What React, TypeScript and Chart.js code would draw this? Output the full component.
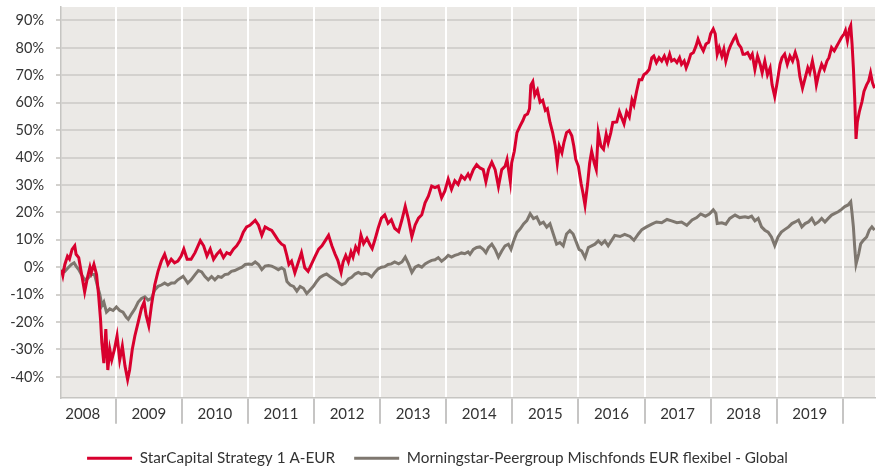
import React, { useEffect, useRef } from 'react';
import { Chart, registerables } from 'chart.js';

Chart.register(...registerables);

const yearLabels = ['2008', '2009', '2010', '2011', '2012', '2013', '2014', '2015', '2016', '2017', '2018', '2019'];
const yTickValues = [-40, -30, -20, -10, 0, 10, 20, 30, 40, 50, 60, 70, 80, 90];
const xMin = 2008.172;
const xMax = 2020.487;
const yMin = -47.6;
const yMax = 94.9;

const seriesNames = ['StarCapital Strategy 1 A-EUR', 'Morningstar-Peergroup Mischfonds EUR flexibel - Global'];

const redDates = [
  2008.18, 2008.20, 2008.23, 2008.27, 2008.30, 2008.34, 2008.38, 2008.40, 2008.44, 2008.48, 2008.53, 2008.57, 2008.61, 2008.63, 2008.67, 2008.71, 2008.74, 2008.77, 2008.79, 2008.82, 2008.85, 2008.88, 2008.91, 2008.94, 2008.98,
  2009.02, 2009.06, 2009.10, 2009.14, 2009.18, 2009.21, 2009.25, 2009.29, 2009.34, 2009.39, 2009.43, 2009.46, 2009.50, 2009.54, 2009.59, 2009.64, 2009.69, 2009.74, 2009.79, 2009.84, 2009.89, 2009.94, 2009.99,
  2010.03, 2010.08, 2010.14, 2010.20, 2010.28, 2010.33, 2010.38, 2010.43, 2010.48, 2010.53, 2010.58, 2010.63, 2010.68, 2010.73, 2010.78, 2010.83, 2010.88, 2010.93, 2010.98,
  2011.03, 2011.11, 2011.16, 2011.21, 2011.26, 2011.31, 2011.36, 2011.41, 2011.46, 2011.51, 2011.55, 2011.59, 2011.62, 2011.66, 2011.71, 2011.76, 2011.81, 2011.86, 2011.91, 2011.96,
  2012.02, 2012.07, 2012.12, 2012.17, 2012.22, 2012.27, 2012.32, 2012.36, 2012.41, 2012.44, 2012.48, 2012.52, 2012.56, 2012.59, 2012.63, 2012.67, 2012.71, 2012.75, 2012.80, 2012.85, 2012.88, 2012.92, 2012.97,
  2013.02, 2013.07, 2013.12, 2013.17, 2013.22, 2013.28, 2013.33, 2013.38, 2013.43, 2013.48, 2013.53, 2013.58, 2013.63, 2013.68, 2013.73, 2013.78, 2013.83, 2013.88, 2013.93, 2013.98,
  2014.03, 2014.08, 2014.13, 2014.18, 2014.23, 2014.28, 2014.33, 2014.36, 2014.41, 2014.46, 2014.51, 2014.56, 2014.60, 2014.64, 2014.69, 2014.74, 2014.79, 2014.84, 2014.89, 2014.92, 2014.97, 2014.99,
  2015.03, 2015.07, 2015.12, 2015.16, 2015.19, 2015.23, 2015.26, 2015.28, 2015.31, 2015.34, 2015.38, 2015.42, 2015.46, 2015.50, 2015.53, 2015.57, 2015.61, 2015.65, 2015.68, 2015.71, 2015.75, 2015.78, 2015.82, 2015.86, 2015.90, 2015.93, 2015.96,
  2016.00, 2016.04, 2016.07, 2016.10, 2016.14, 2016.17, 2016.20, 2016.24, 2016.27, 2016.30, 2016.34, 2016.38, 2016.42, 2016.45, 2016.49, 2016.52, 2016.58, 2016.62, 2016.65, 2016.69, 2016.73, 2016.77, 2016.81, 2016.84, 2016.88, 2016.92, 2016.96, 2016.99,
  2017.03, 2017.07, 2017.11, 2017.14, 2017.18, 2017.22, 2017.26, 2017.30, 2017.34, 2017.38, 2017.41, 2017.45, 2017.49, 2017.53, 2017.56, 2017.60, 2017.63, 2017.66, 2017.70, 2017.74, 2017.78, 2017.81, 2017.85, 2017.89, 2017.93, 2017.97,
  2018.00, 2018.04, 2018.07, 2018.10, 2018.13, 2018.17, 2018.20, 2018.23, 2018.27, 2018.30, 2018.35, 2018.38, 2018.42, 2018.46, 2018.49, 2018.52, 2018.56, 2018.60, 2018.63, 2018.67, 2018.71, 2018.75, 2018.78, 2018.82, 2018.86, 2018.90, 2018.93, 2018.97,
  2019.01, 2019.05, 2019.08, 2019.12, 2019.16, 2019.20, 2019.24, 2019.28, 2019.32, 2019.35, 2019.39, 2019.43, 2019.47, 2019.50, 2019.54, 2019.58, 2019.60, 2019.64, 2019.68, 2019.72, 2019.76, 2019.79, 2019.83, 2019.87, 2019.91, 2019.94, 2019.98,
  2020.02, 2020.04, 2020.07, 2020.10, 2020.12, 2020.14, 2020.16, 2020.18, 2020.20, 2020.22, 2020.25, 2020.29, 2020.32, 2020.36, 2020.39, 2020.42, 2020.45, 2020.48,
];
const redValues = [
  -1, -3, 1, 4, 3, 6.5, 7.8, 4.7, 3.5, -2, -9, -4, 0, -2, 1, -2.7, -10, -19, -27.6, -35, -22.6, -37.5, -30, -33.8, -30,
  -25, -33.8, -28.8, -36, -41, -37.5, -30, -25, -20, -15, -12.7, -17.6, -21.4, -14, -6.5, -1.5, 2.2, 4.7, 1, 2.9, 1.6, 2.2, 4.1,
  6.6, 2.9, 2.9, 5.3, 9.7, 7.8, 4.1, 6.6, 2.9, 4.7, 6, 3.5, 5.3, 4.7, 6.6, 7.8, 9.7, 12.8, 14.7,
  15.3, 17.1, 15.3, 11.6, 14.7, 14, 13.4, 11.6, 9.7, 8.4, 7.8, 4.1, 1, 2.2, -2.1, 1.6, 5.3, -0.2, -1.5, 1,
  4.1, 6.6, 7.8, 9.7, 11.6, 7.8, 4.7, 2.5, -1.9, 1.9, 4.3, 1.9, 5.6, 3.7, 7.4, 5.6, 11.7, 8.6, 10.5, 8, 6.8, 9.9, 14.2,
  17.9, 19.1, 16, 17.3, 14.2, 13, 17.3, 22.2, 17.3, 11.1, 15.4, 17.9, 19.1, 23.5, 25.9, 29.6, 29, 29.6, 25.3, 27.8,
  32.1, 28.4, 31.5, 30.2, 33.3, 32.1, 34, 32.5, 35.6, 37.4, 36.2, 35.6, 31.2, 35.6, 38.3, 35.6, 29.4, 35.6, 36.8, 39.3, 31.2, 38,
  42.3, 49.1, 51.6, 53.5, 55.3, 55.9, 57.8, 66.4, 67.7, 62.7, 64.6, 60.2, 60.9, 57.2, 57.8, 52.8, 49.1, 44.2, 38, 44.2, 41.7, 45.4, 49.1, 49.8, 47.9, 44.2, 39.3,
  36.8, 30.6, 26.9, 22.6, 30.6, 38, 42.3, 38, 35.6, 49.1, 44.2, 43, 48.5, 45.4, 49.1, 52.8, 53, 56.7, 54.8, 52.3, 56.7, 54.8, 61, 59.1, 64.1, 68.4, 68.4, 70.2,
  70.9, 72.1, 76.4, 77, 74.6, 76.4, 75.2, 77, 74.6, 77.7, 75.2, 75.8, 74.6, 76.4, 74, 75.2, 72.7, 74.6, 77.7, 78.3, 80.7, 83.2, 80.7, 78.9, 81.4, 82,
  85.1, 86.9, 85.1, 77.7, 80.1, 77, 79.5, 75.2, 78.9, 80.7, 83.2, 84.4, 81.4, 80.1, 77.7, 77.7, 78.3, 76.4, 77.7, 72.1, 77, 74, 70.9, 75.2, 70.2, 72.7, 66.5, 62.2,
  67.8, 74, 76.4, 77.7, 74, 77, 75.2, 78.3, 75.2, 69.6, 65.3, 69, 72.7, 70.9, 75.2, 70.2, 66.5, 70.9, 74, 72.1, 75.2, 76.4, 80.1, 78.9, 80.7, 82, 83.8,
  85.1, 86.3, 82.6, 86.9, 88.1, 81.4, 72.7, 61.6, 46.8, 53, 56.7, 60.4, 64.1, 66.5, 67.8, 70.9, 67.2, 65.3,
];

const grayDates = [
  2008.18, 2008.23, 2008.28, 2008.33, 2008.37, 2008.40, 2008.44, 2008.48, 2008.53, 2008.58, 2008.63, 2008.68, 2008.72, 2008.76, 2008.79, 2008.82, 2008.86, 2008.91, 2008.96,
  2009.01, 2009.06, 2009.11, 2009.16, 2009.19, 2009.24, 2009.29, 2009.34, 2009.39, 2009.44, 2009.49, 2009.54, 2009.59, 2009.64, 2009.69, 2009.74, 2009.79, 2009.84, 2009.89, 2009.94,
  2010.02, 2010.09, 2010.14, 2010.20, 2010.25, 2010.30, 2010.35, 2010.40, 2010.45, 2010.50, 2010.55, 2010.60, 2010.65, 2010.70, 2010.75, 2010.80, 2010.86, 2010.91, 2010.96,
  2011.01, 2011.06, 2011.11, 2011.16, 2011.21, 2011.26, 2011.31, 2011.36, 2011.41, 2011.46, 2011.51, 2011.55, 2011.59, 2011.64, 2011.69, 2011.74, 2011.79, 2011.84, 2011.89, 2011.94, 2011.99,
  2012.04, 2012.09, 2012.14, 2012.19, 2012.24, 2012.29, 2012.37, 2012.42, 2012.47, 2012.52, 2012.57, 2012.62, 2012.67, 2012.72, 2012.77, 2012.82, 2012.87, 2012.92, 2012.97,
  2013.02, 2013.07, 2013.12, 2013.17, 2013.22, 2013.28, 2013.33, 2013.38, 2013.43, 2013.48, 2013.53, 2013.58, 2013.63, 2013.68, 2013.73, 2013.78, 2013.83, 2013.88, 2013.93, 2013.98,
  2014.03, 2014.08, 2014.13, 2014.18, 2014.23, 2014.28, 2014.33, 2014.36, 2014.41, 2014.46, 2014.51, 2014.56, 2014.60, 2014.64, 2014.69, 2014.74, 2014.79, 2014.84, 2014.89, 2014.94, 2014.98,
  2015.02, 2015.07, 2015.12, 2015.17, 2015.22, 2015.27, 2015.32, 2015.37, 2015.42, 2015.47, 2015.52, 2015.57, 2015.62, 2015.67, 2015.72, 2015.77, 2015.82, 2015.87, 2015.92, 2015.96,
  2016.01, 2016.05, 2016.10, 2016.15, 2016.20, 2016.25, 2016.30, 2016.35, 2016.40, 2016.45, 2016.55, 2016.63, 2016.70, 2016.78, 2016.84, 2016.91, 2016.96,
  2017.03, 2017.11, 2017.18, 2017.26, 2017.34, 2017.41, 2017.49, 2017.56, 2017.64, 2017.72, 2017.79, 2017.85, 2017.92, 2017.98,
  2018.04, 2018.08, 2018.10, 2018.17, 2018.23, 2018.29, 2018.37, 2018.44, 2018.52, 2018.57, 2018.62, 2018.67, 2018.72, 2018.77, 2018.82, 2018.87, 2018.92, 2018.97,
  2019.02, 2019.07, 2019.12, 2019.18, 2019.23, 2019.28, 2019.33, 2019.38, 2019.43, 2019.48, 2019.53, 2019.58, 2019.63, 2019.68, 2019.73, 2019.78, 2019.83, 2019.88, 2019.93, 2019.98,
  2020.03, 2020.08, 2020.12, 2020.14, 2020.16, 2020.18, 2020.20, 2020.24, 2020.27, 2020.31, 2020.36, 2020.40, 2020.44, 2020.48,
];
const grayValues = [
  -0.9, -1.5, -0.2, 1, 1.6, 0.4, -0.9, -2.7, -4.6, -4, -2.7, -2.7, -6.5, -10, -14, -12.7, -16.4, -15.2, -15.8,
  -14.5, -15.8, -16.4, -18.3, -19, -17, -15.2, -12.7, -11.4, -10.8, -12, -11.4, -8.3, -7, -6.5, -5.8, -6.5, -5.8, -5.8, -4.6,
  -3.3, -5.8, -4.6, -2.7, -1.2, -1.7, -3.4, -4.6, -3.4, -4.6, -3.4, -3.7, -2.7, -2.5, -1.5, -1.2, -0.5, 0, 1,
  1.2, 1, 1.9, 1, -0.9, 0.4, 0.6, 0.4, -0.2, -0.9, -0.2, -0.9, -5.2, -6.5, -7, -8.7, -7, -7.7, -9.6, -8.3, -7,
  -5.2, -3.7, -3, -2.5, -3.4, -4.2, -5.6, -6.4, -5.9, -4.3, -3.7, -2.5, -1.9, -2.5, -2.2, -2.5, -3.5, -1.9, -0.6,
  0, 0.2, 1, 1.2, 1.9, 1.2, 1.9, 3.7, 1.2, -1.9, 0, 0.6, 0, 1.2, 1.9, 2.5, 2.7, 3.5, 2.2, 3.1,
  4.3, 3.7, 4.3, 4.7, 5.2, 4.9, 5.6, 4.7, 6.5, 7.2, 7.4, 6.5, 5.3, 7.2, 8.4, 6.5, 3.7, 5.9, 7.8, 8.4, 6.5,
  9.6, 12.7, 14, 15.8, 17, 19.5, 17.7, 18.3, 15.8, 16.4, 14.6, 15.8, 12.1, 8.4, 9, 7.8, 12.1, 13.3, 12.1, 9.6,
  6.5, 5.9, 3.5, 7.2, 7.8, 8.4, 9.6, 8.4, 9.6, 7.8, 11.6, 11.2, 12, 11.2, 9.8, 12.2, 13.7,
  14.7, 15.7, 16.5, 16.2, 17.4, 16.9, 16.2, 16.5, 15.3, 17.2, 18.1, 19.4, 18.6, 19.4,
  20.9, 19.6, 15.9, 16.2, 15.7, 17.8, 19, 18.1, 18.4, 18.1, 18.6, 16.9, 17.8, 14.7, 13.5, 12.8, 11, 7.9,
  11, 12.8, 13.7, 14.7, 15.9, 16.5, 17.2, 14.7, 15.9, 16.5, 17.8, 15.7, 16.5, 17.8, 16.5, 17.8, 19, 19.6, 20.2, 21.1,
  22.1, 22.7, 23.9, 19.6, 14.7, 7.3, 1.1, 4.8, 8.5, 9.8, 11, 13.5, 14.7, 13.5,
];

const RED = '#d8002e';
const GRAY = '#7e776f';
const TEXT = '#333333';
const FONT = 'Lato';

export default function App() {
  const ref = useRef<HTMLCanvasElement>(null);

  useEffect(() => {
    if (!ref.current) return;
    const bgPlugin = {
      id: 'plotBg',
      beforeDraw(chart: any) {
        const { ctx, chartArea: a } = chart;
        ctx.save();
        ctx.fillStyle = '#ebe9e6';
        ctx.fillRect(a.left, a.top, a.right - a.left, a.bottom - a.top);
        ctx.restore();
      },
    };

    const xTicks: number[] = [];
    yearLabels.forEach((_, i) => {
      xTicks.push(2008.5 + i);
      xTicks.push(2009 + i);
    });

    const chart = new Chart(ref.current, {
      type: 'line',
      data: {
        datasets: [
          {
            label: seriesNames[0],
            data: redDates.map((d, i) => ({ x: d, y: redValues[i] })),
            borderColor: RED,
            backgroundColor: RED,
            borderWidth: 3,
            pointRadius: 0,
            tension: 0,
          },
          {
            label: seriesNames[1],
            data: grayDates.map((d, i) => ({ x: d, y: grayValues[i] })),
            borderColor: GRAY,
            backgroundColor: GRAY,
            borderWidth: 3,
            pointRadius: 0,
            tension: 0,
          },
        ],
      },
      options: {
        animation: false,
        responsive: false,
        layout: { padding: { top: 7, right: 7, left: 0, bottom: -9 } },
        scales: {
          y: {
            type: 'linear',
            min: yMin,
            max: yMax,
            afterBuildTicks: (s: any) => {
              s.ticks = yTickValues.map((v) => ({ value: v }));
            },
            afterFit: (s: any) => {
              s.width = 61;
              s.paddingTop = 0;
              s.paddingBottom = 0;
            },
            ticks: {
              callback: (v: any) => `${v}%`,
              padding: 12,
              color: TEXT,
              font: { family: FONT, size: 14.5 },
            },
            grid: {
              color: '#d3d1ce',
              lineWidth: 2,
              tickLength: 5,
              tickColor: '#d3d1ce',
            },
            border: { color: '#c6c5c2', width: 1.5 },
          },
          x: {
            type: 'linear',
            min: xMin,
            max: xMax,
            afterBuildTicks: (s: any) => {
              s.ticks = xTicks.map((v) => ({ value: v }));
            },
            afterFit: (s: any) => {
              s.height = 34;
              s.paddingLeft = 0;
              s.paddingRight = 0;
            },
            ticks: {
              autoSkip: false,
              maxRotation: 0,
              padding: -19,
              color: TEXT,
              font: { family: FONT, size: 15 },
              callback: (v: any) => (Number.isInteger(v) ? '' : yearLabels[Math.floor(v) - 2008]),
            },
            grid: {
              color: (c: any) => (Number.isInteger(c.tick?.value) ? '#ffffff' : 'rgba(0,0,0,0)'),
              tickColor: (c: any) => (Number.isInteger(c.tick?.value) ? '#b3b2b0' : 'rgba(0,0,0,0)'),
              lineWidth: 2,
              tickWidth: 1.5,
              tickLength: 26,
            },
            border: { color: '#c6c5c2', width: 1.5 },
          },
        },
        plugins: {
          tooltip: { enabled: false },
          legend: {
            position: 'bottom',
            labels: {
              boxWidth: 45,
              boxHeight: 3,
              padding: 19,
              color: TEXT,
              font: { family: FONT, size: 15.3 },
              generateLabels: (ch: any) =>
                Chart.defaults.plugins.legend.labels.generateLabels(ch).map((l: any) => ({ ...l, lineWidth: 0 })),
            },
          },
        },
      },
      plugins: [bgPlugin],
    } as any);

    return () => chart.destroy();
  }, []);

  return (
    <div style={{ position: 'fixed', left: 0, top: 0, width: 882, height: 467, background: '#ffffff' }}>
      <canvas ref={ref} width={882} height={467} style={{ display: 'block' }} />
    </div>
  );
}
